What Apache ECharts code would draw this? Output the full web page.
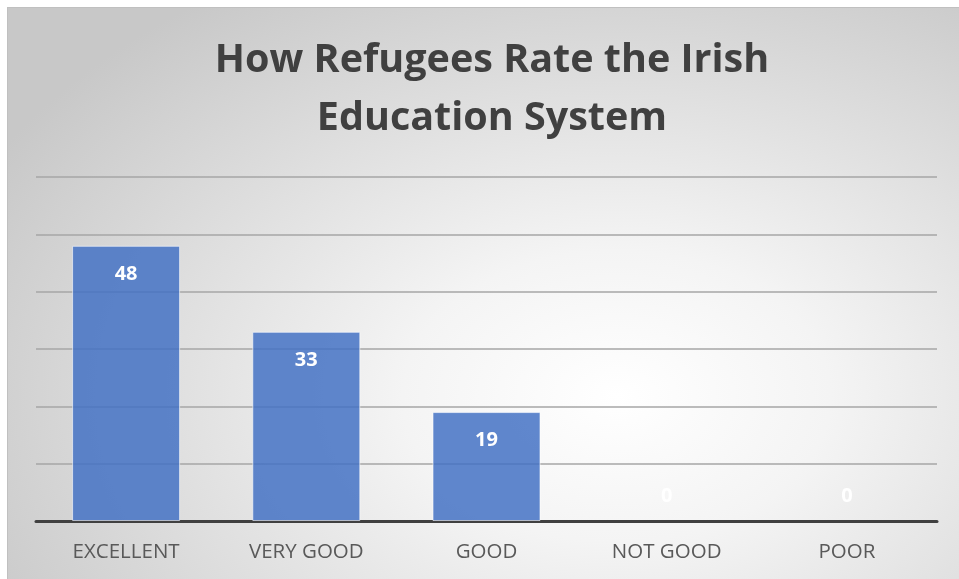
<!DOCTYPE html>
<html><head><meta charset="utf-8">
<script src="https://cdn.jsdelivr.net/npm/echarts@6/dist/echarts.min.js"></script>
<style>
html,body{margin:0;padding:0;background:#fff;}
#bg{position:absolute;left:7px;top:7px;width:952px;height:572px;border-left:1px solid #c0c0c0;border-top:1px solid #c0c0c0;box-sizing:border-box;
background:radial-gradient(ellipse 75% 85% at 64% 68%, #ffffff 0%, #f4f4f4 30%, #dedede 65%, #c8c8c8 100%);}
#c{position:absolute;left:0;top:0;width:959px;height:579px;}
</style></head><body>
<div id="bg"></div>
<div id="c"></div>
<script>
const titleText = "How Refugees Rate the Irish\nEducation System";
const categories = ["EXCELLENT", "VERY GOOD", "GOOD", "NOT GOOD", "POOR"];
const values = [48, 33, 19, 0, 0];
const yMin = 0, yMax = 60, yStep = 10;

const chart = echarts.init(document.getElementById('c'), null, {renderer:'canvas'});
const data = values.map(v => v === 0
  ? {value: v, label: {position: 'top', distance: 15}, itemStyle: {borderWidth: 0}}
  : {value: v});
chart.setOption({
  backgroundColor: 'transparent',
  title: {
    text: titleText, left: 487, top: 27, textAlign: 'center',
    textStyle: {fontFamily: 'Open Sans', fontWeight: 'bold', fontSize: 39.5, color: '#404040', lineHeight: 58}
  },
  grid: {left: 36, right: 22, top: 177, bottom: 58, containLabel: false},
  xAxis: {
    type: 'category', data: categories,
    axisLine: {lineStyle: {color: '#404040', width: 3}},
    axisTick: {show: false},
    axisLabel: {fontFamily: 'Open Sans', fontSize: 20.5, color: '#595959', margin: 21}
  },
  yAxis: {
    type: 'value', min: yMin, max: yMax, interval: yStep,
    axisLabel: {show: false}, axisLine: {show: false}, axisTick: {show: false},
    splitLine: {lineStyle: {color: '#a6a6a6', width: 1.5}}
  },
  series: [{
    type: 'bar', data: data, barWidth: 108,
    itemStyle: {color: 'rgba(68,114,196,0.85)', borderColor: 'rgba(255,255,255,0.6)', borderWidth: 1},
    label: {show: true, position: 'insideTop', distance: 18, fontFamily: 'Open Sans', fontWeight: 'bold', fontSize: 20, color: '#ffffff'}
  }]
});
</script>
</body></html>
